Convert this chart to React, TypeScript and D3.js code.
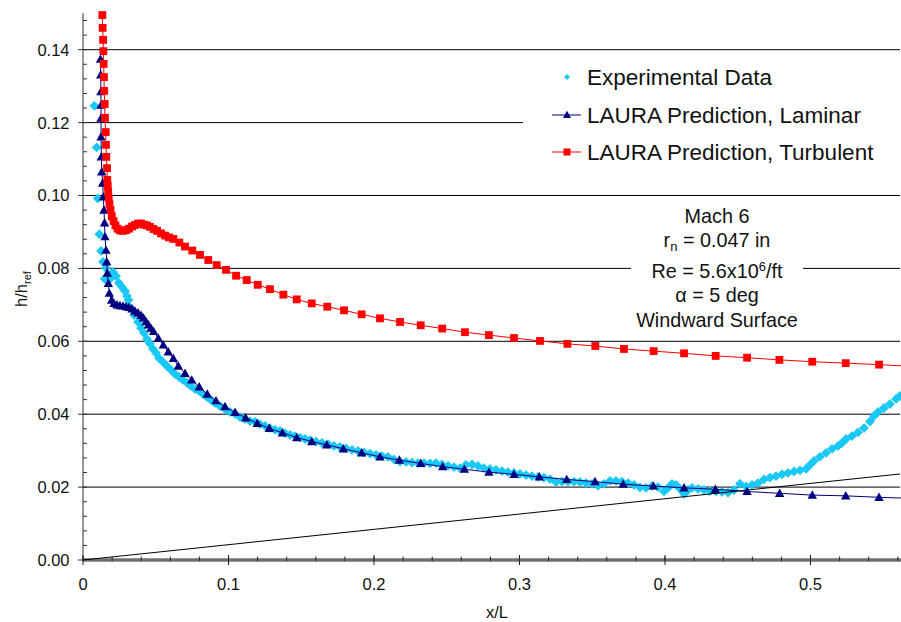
import React, { useEffect, useRef } from "react";
import * as d3 from "d3";

// axis ticks
const xTicks = [0, 0.1, 0.2, 0.3, 0.4, 0.5];
const xTickLabels = ["0", "0.1", "0.2", "0.3", "0.4", "0.5"];
const yTicks = [0, 0.02, 0.04, 0.06, 0.08, 0.1, 0.12, 0.14];
const yTickLabels = ["0.00", "0.02", "0.04", "0.06", "0.08", "0.10", "0.12", "0.14"];

const legendLabels = [
  "Experimental Data",
  "LAURA Prediction, Laminar",
  "LAURA Prediction, Turbulent",
];

const expX = [
  0.0078, 0.0094, 0.0101, 0.0112, 0.0124, 0.0137, 0.0148, 0.0158, 0.0186, 0.0206,
  0.0227, 0.0247, 0.0268, 0.0289, 0.0302, 0.0313, 0.033, 0.0351, 0.0378, 0.0399,
  0.0419, 0.044, 0.046, 0.0481, 0.0502, 0.0522, 0.055, 0.0577, 0.0605, 0.0632,
  0.066, 0.0687, 0.0715, 0.0742, 0.077, 0.0797, 0.0825, 0.0852, 0.088, 0.0907,
  0.0942, 0.0976, 0.101, 0.1045, 0.1079, 0.1113, 0.1148, 0.1182, 0.1216, 0.1251,
  0.1285, 0.132, 0.1354, 0.1388, 0.1423, 0.1457, 0.1491, 0.1526, 0.156, 0.1601,
  0.1643, 0.1684, 0.1725, 0.1766, 0.1808, 0.1849, 0.189, 0.1931, 0.1973, 0.2014,
  0.2055, 0.2096, 0.2137, 0.2179, 0.222, 0.2261, 0.2302, 0.2344, 0.2385, 0.2426,
  0.2467, 0.2509, 0.255, 0.2591, 0.2632, 0.2674, 0.2715, 0.2756, 0.2797, 0.2838,
  0.288, 0.2921, 0.2962, 0.3003, 0.3045, 0.3086, 0.3127, 0.3168, 0.321, 0.3251,
  0.3292, 0.3333, 0.3375, 0.3416, 0.3457, 0.3498, 0.354, 0.3581, 0.3622, 0.3663,
  0.3704, 0.3746, 0.3787, 0.3828, 0.3869, 0.3911, 0.3952, 0.3993, 0.4021, 0.4048,
  0.4076, 0.4103, 0.4131, 0.4158, 0.4186, 0.4227, 0.4268, 0.4309, 0.4351, 0.4392,
  0.4433, 0.4474, 0.4515, 0.4557, 0.4598, 0.4639, 0.468, 0.4722, 0.4763, 0.4804,
  0.4845, 0.4887, 0.4928, 0.4969, 0.4997, 0.5024, 0.5065, 0.5107, 0.5148, 0.5189,
  0.5216, 0.5244, 0.5285, 0.5326, 0.5368, 0.5409, 0.5436, 0.5464, 0.5505, 0.5546,
  0.5588, 0.5615,
];
const expY = [
  0.1246, 0.1132, 0.0992, 0.0894, 0.0848, 0.0818, 0.0771, 0.0801, 0.0771, 0.079,
  0.0779, 0.076, 0.0749, 0.0738, 0.0724, 0.0713, 0.0691, 0.0672, 0.0653, 0.0636,
  0.0623, 0.0606, 0.0593, 0.0579, 0.0568, 0.0554, 0.0543, 0.0532, 0.0521, 0.051,
  0.0502, 0.0494, 0.0486, 0.0477, 0.0469, 0.0464, 0.0455, 0.0447, 0.0439, 0.0431,
  0.0422, 0.0414, 0.0406, 0.0401, 0.0392, 0.0387, 0.0381, 0.0379, 0.0373, 0.0368,
  0.0362, 0.0357, 0.0354, 0.0348, 0.0343, 0.034, 0.0336, 0.0332, 0.0329, 0.0325,
  0.0321, 0.0318, 0.0313, 0.031, 0.0306, 0.0302, 0.0299, 0.0295, 0.0292, 0.0288,
  0.0285, 0.0283, 0.0276, 0.027, 0.0269, 0.0267, 0.0266, 0.0266, 0.0265, 0.0266,
  0.0262, 0.0258, 0.0255, 0.0252, 0.0261, 0.0262, 0.0258, 0.0252, 0.025, 0.0247,
  0.0244, 0.0241, 0.0239, 0.0236, 0.0233, 0.023, 0.0228, 0.0226, 0.0222, 0.0214,
  0.0215, 0.0215, 0.0215, 0.0214, 0.0211, 0.0209, 0.0204, 0.0209, 0.0217, 0.0217,
  0.0215, 0.0211, 0.0206, 0.0199, 0.0198, 0.0203, 0.02, 0.0188, 0.0198, 0.0209,
  0.0206, 0.0195, 0.0181, 0.0192, 0.0198, 0.0195, 0.0192, 0.0189, 0.0188, 0.0187,
  0.0185, 0.0192, 0.0209, 0.0202, 0.0206, 0.0211, 0.0221, 0.0226, 0.023, 0.0235,
  0.0239, 0.0243, 0.0246, 0.025, 0.0261, 0.0272, 0.0283, 0.0294, 0.0305, 0.0313,
  0.0321, 0.0332, 0.034, 0.035, 0.0362, 0.038, 0.0395, 0.0406, 0.0417, 0.0428,
  0.0442, 0.045,
];

// LAURA laminar prediction
const lamX = [
  0.012, 0.0122, 0.0123, 0.0124, 0.0124, 0.0124, 0.0126, 0.0129, 0.0135, 0.014,
  0.0144, 0.0148, 0.0151, 0.0158, 0.0163, 0.0167, 0.0174, 0.0181, 0.0197, 0.0213,
  0.0234, 0.0254, 0.0275, 0.0296, 0.0316, 0.0337, 0.0357, 0.0378, 0.0399, 0.0416,
  0.0433, 0.045, 0.0467, 0.0485, 0.0518, 0.0552, 0.0586, 0.0621, 0.0655, 0.0701,
  0.0747, 0.0799, 0.0854, 0.0914, 0.0976, 0.1045, 0.1118, 0.1198, 0.128, 0.137,
  0.1469, 0.1572, 0.1675, 0.1789, 0.1915, 0.2041, 0.2174, 0.2321, 0.2472, 0.2621,
  0.279, 0.2962, 0.3136, 0.3324, 0.3519, 0.3713, 0.392, 0.4131, 0.4346, 0.4564,
  0.4788, 0.5012, 0.5242, 0.5471, 0.57,
];
const lamY = [
  0.1374, 0.1331, 0.1285, 0.1248, 0.1212, 0.1161, 0.1106, 0.1065, 0.1034, 0.0996,
  0.096, 0.0925, 0.0887, 0.085, 0.0818, 0.0787, 0.0759, 0.0732, 0.0713, 0.0704,
  0.07, 0.0698, 0.0697, 0.0695, 0.0693, 0.0689, 0.0683, 0.0678, 0.0671, 0.0664,
  0.0654, 0.0645, 0.0636, 0.0627, 0.0608, 0.059, 0.0571, 0.0553, 0.0532, 0.0512,
  0.0494, 0.0475, 0.0455, 0.0437, 0.0421, 0.0405, 0.039, 0.0375, 0.0361, 0.0349,
  0.0336, 0.0325, 0.0316, 0.0305, 0.0294, 0.0283, 0.0274, 0.0265, 0.0256, 0.0249,
  0.0241, 0.0235, 0.0228, 0.0221, 0.0215, 0.0208, 0.0203, 0.0198, 0.0194, 0.0188,
  0.0183, 0.0178, 0.0176, 0.0172, 0.0169,
];

// LAURA turbulent prediction
const turbX = [
  0.0133, 0.0135, 0.0138, 0.014, 0.0142, 0.0144, 0.0146, 0.0149, 0.0151, 0.0156,
  0.0158, 0.016, 0.0165, 0.0167, 0.017, 0.0173, 0.0177, 0.0182, 0.0189, 0.0198,
  0.021, 0.0223, 0.0237, 0.0254, 0.0275, 0.0296, 0.0316, 0.0337, 0.0357, 0.0378,
  0.0399, 0.0419, 0.044, 0.046, 0.0485, 0.0509, 0.0536, 0.0564, 0.0591, 0.0621,
  0.0662, 0.0701, 0.0751, 0.0804, 0.0861, 0.0919, 0.0983, 0.1052, 0.1125, 0.1201,
  0.1285, 0.1377, 0.1469, 0.1572, 0.1679, 0.1794, 0.1915, 0.2041, 0.2179, 0.2321,
  0.2469, 0.2625, 0.279, 0.2962, 0.3141, 0.3329, 0.3521, 0.3718, 0.3922, 0.4131,
  0.4348, 0.4564, 0.4786, 0.5012, 0.5242, 0.5471, 0.57,
];
const turbY = [
  0.1495, 0.146, 0.1427, 0.1396, 0.1361, 0.1325, 0.1287, 0.1251, 0.1213, 0.1174,
  0.1139, 0.1106, 0.1075, 0.1043, 0.1026, 0.101, 0.0993, 0.0976, 0.096, 0.0943,
  0.093, 0.0918, 0.0909, 0.0904, 0.0903, 0.0905, 0.0909, 0.0915, 0.0919, 0.0923,
  0.0923, 0.092, 0.0918, 0.0914, 0.0908, 0.0903, 0.0896, 0.089, 0.0885, 0.0881,
  0.0871, 0.086, 0.0849, 0.0837, 0.0823, 0.0809, 0.0796, 0.078, 0.0768, 0.0755,
  0.0743, 0.0728, 0.0715, 0.0704, 0.0695, 0.0685, 0.0674, 0.0663, 0.0653, 0.0644,
  0.0635, 0.0625, 0.0617, 0.0609, 0.0601, 0.0593, 0.0587, 0.0579, 0.0573, 0.0567,
  0.056, 0.0555, 0.0549, 0.0544, 0.054, 0.0536, 0.0531,
];

// thin straight reference line from origin
const refX = [0, 0.5615];
const refY = [0, 0.0236];

const W = 901;
const H = 622;
const FONT = "'Liberation Sans', Arial, sans-serif";

const App = () => {
  const ref = useRef<SVGSVGElement | null>(null);

  useEffect(() => {
    const svg = d3.select(ref.current);
    svg.selectAll("*").remove();

    const x = d3.scaleLinear().domain([0, 0.5615]).range([83, 900]);
    const y = d3.scaleLinear().domain([0, 0.15]).range([560, 13.25]);
    const zip = (xs: number[], ys: number[]) => xs.map((v, i) => [v, ys[i]] as [number, number]);

    svg
      .append("defs")
      .append("clipPath")
      .attr("id", "plotclip")
      .append("rect")
      .attr("x", 83)
      .attr("y", 0)
      .attr("width", 818)
      .attr("height", 562);

    // gridlines
    svg
      .append("g")
      .selectAll("line")
      .data(yTicks.slice(1))
      .join("line")
      .attr("x1", 83)
      .attr("x2", 900)
      .attr("y1", (d) => y(d))
      .attr("y2", (d) => y(d))
      .attr("stroke", "#000")
      .attr("stroke-width", 1);

    // legend box
    const leg = svg.append("g");
    leg.append("rect").attr("x", 523).attr("y", 57).attr("width", 380).attr("height", 115).attr("fill", "#fff");

    // annotation box
    const ann = svg.append("g");
    ann.append("rect").attr("x", 631).attr("y", 203).attr("width", 172).attr("height", 133).attr("fill", "#fff");

    // y axis
    svg.append("line").attr("x1", 83).attr("x2", 83).attr("y1", 13).attr("y2", 560).attr("stroke", "#333").attr("stroke-width", 1);
    const yMinor = d3.range(0, 0.1501, 0.004);
    svg
      .append("g")
      .selectAll("line")
      .data(yMinor)
      .join("line")
      .attr("x1", 83)
      .attr("x2", 87)
      .attr("y1", (d) => y(d))
      .attr("y2", (d) => y(d))
      .attr("stroke", "#333");
    svg
      .append("g")
      .selectAll("line")
      .data(yTicks)
      .join("line")
      .attr("x1", 78)
      .attr("x2", 83)
      .attr("y1", (d) => y(d))
      .attr("y2", (d) => y(d))
      .attr("stroke", "#333");
    svg
      .append("g")
      .selectAll("text")
      .data(yTicks)
      .join("text")
      .attr("x", 69.5)
      .attr("y", (d) => y(d))
      .attr("dy", "0.36em")
      .attr("text-anchor", "end")
      .style("font-family", FONT)
      .style("font-size", "16.5px")
      .attr("fill", "#111")
      .text((d, i) => yTickLabels[i]);

    // x axis
    svg.append("line").attr("x1", 83).attr("x2", 901).attr("y1", 560).attr("y2", 560).attr("stroke", "#707070").attr("stroke-width", 3.5);
    const xMinor = d3.range(0, 0.561, 0.02);
    svg
      .append("g")
      .selectAll("line")
      .data(xMinor)
      .join("line")
      .attr("x1", (d) => x(d))
      .attr("x2", (d) => x(d))
      .attr("y1", 556.5)
      .attr("y2", 561)
      .attr("stroke", "#222");
    svg
      .append("g")
      .selectAll("line")
      .data(xTicks)
      .join("line")
      .attr("x1", (d) => x(d))
      .attr("x2", (d) => x(d))
      .attr("y1", 555)
      .attr("y2", 565)
      .attr("stroke", "#222");
    svg
      .append("g")
      .selectAll("text")
      .data(xTicks)
      .join("text")
      .attr("x", (d) => x(d))
      .attr("y", 589.5)
      .attr("text-anchor", "middle")
      .style("font-family", FONT)
      .style("font-size", "16.5px")
      .attr("fill", "#111")
      .text((d, i) => xTickLabels[i]);

    // axis titles
    svg
      .append("text")
      .attr("x", 497)
      .attr("y", 618)
      .attr("text-anchor", "middle")
      .style("font-family", FONT)
      .style("font-size", "16.5px")
      .attr("fill", "#111")
      .text("x/L");
    const yt = svg
      .append("text")
      .attr("transform", "translate(27,289) rotate(-90)")
      .attr("text-anchor", "middle")
      .style("font-family", FONT)
      .style("font-size", "16.5px")
      .attr("fill", "#111");
    yt.append("tspan").text("h/h");
    yt.append("tspan").attr("dy", 4).style("font-size", "11px").text("ref");

    const plot = svg.append("g").attr("clip-path", "url(#plotclip)");
    const line = d3
      .line<[number, number]>()
      .x((d) => x(d[0]))
      .y((d) => y(d[1]));

    const diamond = "M0,-4.9L4.9,0L0,4.9L-4.9,0Z";
    const triangle = "M0,-4.8L4.7,3.6L-4.7,3.6Z";

    // experimental data
    plot
      .append("g")
      .selectAll("path")
      .data(zip(expX, expY))
      .join("path")
      .attr("d", diamond)
      .attr("transform", (d) => `translate(${x(d[0])},${y(d[1])})`)
      .attr("fill", "#19C8F5");

    // reference line
    plot.append("path").datum(zip(refX, refY)).attr("d", line).attr("fill", "none").attr("stroke", "#000").attr("stroke-width", 1);

    // laminar
    const lam = zip(lamX, lamY);
    plot.append("path").datum(lam).attr("d", line).attr("fill", "none").attr("stroke", "#000080").attr("stroke-width", 1);
    plot
      .append("g")
      .selectAll("path")
      .data(lam)
      .join("path")
      .attr("d", triangle)
      .attr("transform", (d) => `translate(${x(d[0])},${y(d[1])})`)
      .attr("fill", "#000080");

    // turbulent
    const turb = zip(turbX, turbY);
    plot.append("path").datum(turb).attr("d", line).attr("fill", "none").attr("stroke", "#ff0000").attr("stroke-width", 1);
    plot
      .append("g")
      .selectAll("rect")
      .data(turb)
      .join("rect")
      .attr("x", (d) => x(d[0]) - 3.9)
      .attr("y", (d) => y(d[1]) - 3.9)
      .attr("width", 7.8)
      .attr("height", 7.8)
      .attr("fill", "#ff0000");

    // legend entries
    const rowY = [77, 115, 152];
    leg.append("path").attr("d", "M0,-3L3,0L0,3L-3,0Z").attr("transform", `translate(567,${rowY[0]})`).attr("fill", "#19C8F5");
    leg.append("line").attr("x1", 552).attr("x2", 581).attr("y1", rowY[1]).attr("y2", rowY[1]).attr("stroke", "#000080");
    leg.append("path").attr("d", "M0,-4.2L4,3L-4,3Z").attr("transform", `translate(567,${rowY[1]})`).attr("fill", "#000080");
    leg.append("line").attr("x1", 552).attr("x2", 581).attr("y1", rowY[2]).attr("y2", rowY[2]).attr("stroke", "#ff0000");
    leg.append("rect").attr("x", 563.5).attr("y", rowY[2] - 3.5).attr("width", 7).attr("height", 7).attr("fill", "#ff0000");
    leg
      .selectAll("text")
      .data(legendLabels)
      .join("text")
      .attr("x", 587)
      .attr("y", (d, i) => rowY[i] + 7.5)
      .style("font-family", FONT)
      .style("font-size", "22.5px")
      .attr("fill", "#111")
      .text((d) => d);

    // annotation text
    const ax = 717;
    const annText = (yy: number) =>
      ann
        .append("text")
        .attr("x", ax)
        .attr("y", yy)
        .attr("text-anchor", "middle")
        .style("font-family", FONT)
        .style("font-size", "19.8px")
        .attr("fill", "#111");
    annText(223).text("Mach 6");
    const rn = annText(247);
    rn.append("tspan").text("r");
    rn.append("tspan").attr("dy", 4).style("font-size", "13px").text("n");
    rn.append("tspan").attr("dy", -4).text(" = 0.047 in");
    const re = annText(278);
    re.append("tspan").text("Re = 5.6x10");
    re.append("tspan").attr("dy", -7).style("font-size", "13px").text("6");
    re.append("tspan").attr("dy", 7).text("/ft");
    annText(302).text("\u03b1 = 5 deg");
    annText(327).text("Windward Surface");
  }, []);

  return (
    <svg
      ref={ref}
      width={W}
      height={H}
      style={{ position: "absolute", left: 0, top: 0, background: "#fff" }}
    />
  );
};

export default App;
